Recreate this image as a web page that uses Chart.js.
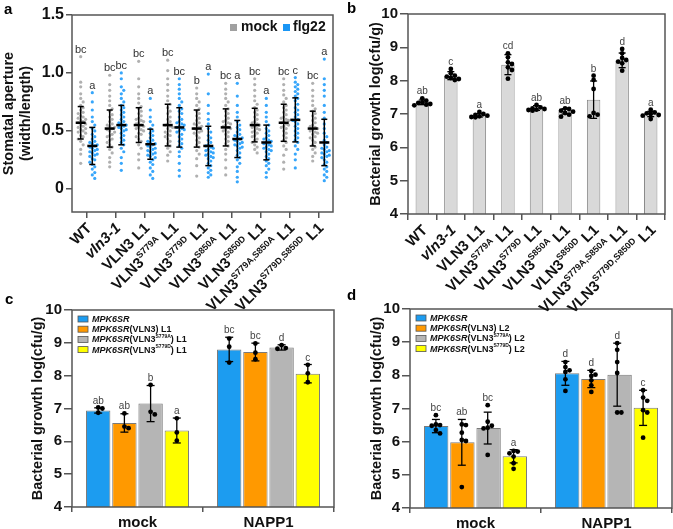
<!DOCTYPE html>
<html>
<head>
<meta charset="utf-8">
<script src="https://cdn.jsdelivr.net/npm/chart.js@4.4.1/dist/chart.umd.min.js"></script>
<style>
  body { margin: 0; background: #fff; }
  #fig { position: relative; width: 673px; height: 529px; overflow: hidden; font-family: "Liberation Sans", Arial, sans-serif; }
  #fig canvas { position: absolute; }
  .tag { position: absolute; font-weight: bold; font-size: 15px; line-height: 16px; color: #000; }
</style>
</head>
<body>
<div id="fig">
  <canvas id="cc" width="340" height="233" style="left:0;top:296px"></canvas>
  <canvas id="cc-dots" width="340" height="233" style="left:0;top:296px"></canvas>
  <canvas id="cd" width="333" height="233" style="left:340px;top:296px"></canvas>
  <canvas id="cd-dots" width="333" height="233" style="left:340px;top:296px"></canvas>
  <canvas id="ca" width="340" height="312" style="left:0;top:0"></canvas>
  <canvas id="cb" width="333" height="312" style="left:340px;top:0"></canvas>
  <canvas id="cb-dots" width="333" height="312" style="left:340px;top:0"></canvas>
  <div class="tag" style="left:4px;top:1px">a</div>
  <div class="tag" style="left:347px;top:0px">b</div>
  <div class="tag" style="left:5px;top:291px">c</div>
  <div class="tag" style="left:347px;top:287px">d</div>
</div>
<script>
// _x_ = italic, ^x^ = superscript
const GENOTYPES = ['WT', '_vln3-1_', 'VLN3 L1', 'VLN3^S779A^ L1', 'VLN3^S779D^ L1', 'VLN3^S850A^ L1',
  'VLN3^S850D^ L1', 'VLN3^S779A,S850A^ L1', 'VLN3^S779D,S850D^ L1']

// panel a: stomatal aperture, individual stomata
const A_YTICKS = [0, 0.5, 1.0, 1.5]
const MOCK_A = [
  [1.14, 0.92, 0.88, 0.82, 0.78, 0.75, 0.72, 0.70, 0.68, 0.66, 0.65, 0.63, 0.62, 0.61, 0.60, 0.59, 0.58, 0.57, 0.56, 0.55, 0.54, 0.53, 0.52, 0.51, 0.50, 0.49, 0.48, 0.46, 0.45, 0.43, 0.41, 0.38, 0.34, 0.30, 0.22],
  [0.98, 0.90, 0.85, 0.80, 0.76, 0.72, 0.69, 0.67, 0.64, 0.62, 0.60, 0.58, 0.56, 0.55, 0.54, 0.53, 0.52, 0.51, 0.50, 0.49, 0.47, 0.46, 0.45, 0.43, 0.42, 0.40, 0.38, 0.36, 0.34, 0.31, 0.27, 0.23, 0.19],
  [1.10, 0.95, 0.88, 0.82, 0.78, 0.74, 0.71, 0.69, 0.67, 0.65, 0.63, 0.61, 0.60, 0.59, 0.58, 0.57, 0.56, 0.55, 0.54, 0.53, 0.52, 0.51, 0.50, 0.48, 0.47, 0.45, 0.43, 0.41, 0.38, 0.35, 0.30, 0.25, 0.18],
  [1.11, 1.02, 0.95, 0.90, 0.85, 0.80, 0.76, 0.73, 0.70, 0.67, 0.65, 0.62, 0.60, 0.58, 0.56, 0.55, 0.54, 0.53, 0.52, 0.50, 0.49, 0.47, 0.46, 0.45, 0.43, 0.41, 0.39, 0.37, 0.35, 0.32, 0.29, 0.24],
  [0.87, 0.82, 0.78, 0.75, 0.72, 0.69, 0.67, 0.65, 0.63, 0.61, 0.59, 0.57, 0.56, 0.55, 0.54, 0.53, 0.52, 0.51, 0.50, 0.49, 0.48, 0.46, 0.44, 0.42, 0.40, 0.38, 0.36, 0.33, 0.30, 0.26, 0.20, 0.11],
  [0.91, 0.86, 0.82, 0.78, 0.75, 0.72, 0.69, 0.67, 0.65, 0.63, 0.61, 0.59, 0.58, 0.57, 0.56, 0.55, 0.54, 0.53, 0.52, 0.51, 0.50, 0.49, 0.47, 0.45, 0.43, 0.41, 0.39, 0.37, 0.34, 0.30, 0.25, 0.18, 0.12],
  [0.95, 0.90, 0.85, 0.80, 0.76, 0.73, 0.70, 0.68, 0.66, 0.64, 0.62, 0.60, 0.58, 0.57, 0.56, 0.55, 0.54, 0.53, 0.52, 0.51, 0.50, 0.49, 0.48, 0.46, 0.45, 0.43, 0.42, 0.40, 0.38, 0.36, 0.34, 0.31],
  [0.95, 0.90, 0.85, 0.81, 0.78, 0.75, 0.72, 0.70, 0.68, 0.66, 0.64, 0.62, 0.61, 0.60, 0.59, 0.58, 0.57, 0.56, 0.55, 0.54, 0.53, 0.52, 0.50, 0.48, 0.46, 0.44, 0.42, 0.40, 0.37, 0.34, 0.29, 0.23, 0.17],
  [0.91, 0.85, 0.80, 0.76, 0.72, 0.69, 0.67, 0.65, 0.63, 0.61, 0.59, 0.57, 0.55, 0.54, 0.53, 0.52, 0.51, 0.50, 0.49, 0.48, 0.47, 0.45, 0.44, 0.42, 0.40, 0.38, 0.36, 0.34, 0.31, 0.28, 0.24],
]
const FLG_A = [
  [0.83, 0.75, 0.68, 0.62, 0.58, 0.55, 0.52, 0.50, 0.47, 0.45, 0.43, 0.41, 0.40, 0.39, 0.38, 0.37, 0.36, 0.35, 0.34, 0.33, 0.32, 0.31, 0.30, 0.29, 0.28, 0.26, 0.25, 0.23, 0.21, 0.19, 0.17, 0.14, 0.12, 0.09],
  [1.00, 0.95, 0.88, 0.85, 0.82, 0.78, 0.75, 0.72, 0.70, 0.68, 0.66, 0.64, 0.62, 0.60, 0.58, 0.57, 0.56, 0.55, 0.54, 0.53, 0.52, 0.51, 0.50, 0.48, 0.46, 0.44, 0.42, 0.40, 0.38, 0.35, 0.32, 0.27, 0.22, 0.16],
  [0.78, 0.68, 0.62, 0.58, 0.55, 0.52, 0.50, 0.48, 0.46, 0.44, 0.42, 0.41, 0.40, 0.39, 0.38, 0.37, 0.36, 0.35, 0.34, 0.33, 0.32, 0.31, 0.30, 0.29, 0.28, 0.27, 0.25, 0.23, 0.21, 0.18, 0.15, 0.12, 0.09],
  [0.95, 0.90, 0.86, 0.82, 0.78, 0.75, 0.72, 0.69, 0.67, 0.65, 0.62, 0.60, 0.58, 0.57, 0.56, 0.55, 0.54, 0.53, 0.52, 0.51, 0.50, 0.49, 0.47, 0.45, 0.43, 0.41, 0.39, 0.37, 0.35, 0.32, 0.28, 0.22, 0.16, 0.11],
  [0.99, 0.82, 0.72, 0.65, 0.60, 0.56, 0.52, 0.49, 0.46, 0.44, 0.42, 0.40, 0.38, 0.37, 0.36, 0.35, 0.34, 0.33, 0.32, 0.31, 0.30, 0.29, 0.28, 0.27, 0.26, 0.24, 0.22, 0.20, 0.18, 0.16, 0.14, 0.12, 0.10],
  [0.91, 0.80, 0.72, 0.66, 0.62, 0.58, 0.55, 0.53, 0.51, 0.49, 0.47, 0.46, 0.45, 0.44, 0.43, 0.42, 0.41, 0.40, 0.39, 0.38, 0.37, 0.36, 0.35, 0.33, 0.31, 0.29, 0.27, 0.25, 0.22, 0.19, 0.15, 0.10, 0.06],
  [0.78, 0.72, 0.66, 0.62, 0.58, 0.55, 0.52, 0.50, 0.48, 0.46, 0.44, 0.43, 0.42, 0.41, 0.40, 0.39, 0.38, 0.37, 0.36, 0.35, 0.34, 0.33, 0.32, 0.30, 0.28, 0.26, 0.24, 0.22, 0.20, 0.17, 0.14, 0.10],
  [0.96, 0.92, 0.90, 0.88, 0.86, 0.84, 0.82, 0.80, 0.78, 0.76, 0.73, 0.70, 0.68, 0.66, 0.64, 0.62, 0.60, 0.59, 0.58, 0.56, 0.54, 0.52, 0.50, 0.48, 0.46, 0.44, 0.42, 0.40, 0.37, 0.34, 0.30, 0.25, 0.18],
  [1.12, 0.95, 0.90, 0.85, 0.80, 0.72, 0.66, 0.61, 0.56, 0.52, 0.48, 0.45, 0.42, 0.40, 0.38, 0.36, 0.35, 0.34, 0.33, 0.32, 0.31, 0.30, 0.29, 0.28, 0.27, 0.25, 0.23, 0.21, 0.19, 0.17, 0.15, 0.12, 0.10, 0.07],
]
const MOCK_MEAN = [0.57, 0.52, 0.55, 0.55, 0.52, 0.53, 0.55, 0.57, 0.52]
const MOCK_SD = [0.14, 0.16, 0.15, 0.18, 0.16, 0.16, 0.145, 0.16, 0.15]
const FLG_MEAN = [0.37, 0.55, 0.385, 0.53, 0.37, 0.43, 0.40, 0.595, 0.40]
const FLG_SD = [0.16, 0.17, 0.13, 0.17, 0.17, 0.16, 0.15, 0.19, 0.20]
const MOCK_LETTERS = ['bc', 'bc', 'bc', 'bc', 'b', 'bc', 'bc', 'bc', 'bc']
const FLG_LETTERS = ['a', 'bc', 'a', 'bc', 'a', 'a', 'a', 'c', 'a']

// panel b: bacterial growth per genotype
const B_MEANS = [7.35, 8.15, 6.96, 8.48, 7.18, 7.08, 7.43, 8.61, 7.00]
const B_SD = [0.07, 0.12, 0.05, 0.30, 0.07, 0.08, 0.56, 0.22, 0.08]
const B_DOTS = [
  [7.47, 7.40, 7.35, 7.33, 7.30, 7.28, 7.26],
  [8.35, 8.22, 8.15, 8.12, 8.08, 8.05, 8.02],
  [7.06, 7.00, 6.97, 6.95, 6.93, 6.91, 6.90],
  [8.82, 8.70, 8.55, 8.50, 8.40, 8.32, 8.06],
  [7.27, 7.20, 7.17, 7.15, 7.13, 7.12, 7.10],
  [7.17, 7.15, 7.10, 7.07, 7.03, 6.98, 6.92],
  [8.15, 8.02, 7.75, 7.03, 6.98, 6.93],
  [8.95, 8.82, 8.68, 8.62, 8.57, 8.52, 8.30],
  [7.13, 7.05, 7.02, 7.00, 6.97, 6.95, 6.85],
]
const B_LETTERS = ['ab', 'c', 'a', 'cd', 'ab', 'ab', 'b', 'd', 'a']

// panels c and d
const TREATMENTS = ['mock', 'NAPP1']
const C_SERIES = ['_MPK6SR_', '_MPK6SR_(VLN3) L1', '_MPK6SR_(VLN3^S779A^) L1', '_MPK6SR_(VLN3^S779D^) L1']
const D_SERIES = ['_MPK6SR_', '_MPK6SR_(VLN3) L2', '_MPK6SR_(VLN3^S779A^) L2', '_MPK6SR_(VLN3^S779D^) L2']
const SERIES_COLORS = ['#1c9cf0', '#ff9900', '#b5b5b5', '#ffff00']

const C_MEANS = [[6.94, 8.80], [6.56, 8.72], [7.15, 8.86], [6.33, 8.06]]
const C_SD = [[0.08, 0.37], [0.28, 0.27], [0.55, 0.08], [0.38, 0.28]]
const C_DOTS = [
  [[7.03, 7.00, 6.87], [9.13, 8.88, 8.40]],
  [[6.85, 6.45, 6.40], [8.98, 8.70, 8.50]],
  [[7.72, 6.90, 6.82], [8.93, 8.84, 8.82]],
  [[6.70, 6.27, 6.02], [8.33, 8.07, 7.80]],
]
const C_LETTERS = [['ab', 'bc'], ['ab', 'bc'], ['b', 'd'], ['a', 'c']]

const D_MEANS = [[6.47, 8.06], [5.98, 7.89], [6.41, 8.02], [5.56, 7.02]]
const D_SD = [[0.20, 0.36], [0.69, 0.26], [0.48, 0.95], [0.20, 0.53]]
const D_DOTS = [
  [[6.80, 6.52, 6.50, 6.48, 6.35, 6.25], [8.40, 8.25, 8.15, 8.10, 7.88, 7.53]],
  [[6.52, 6.50, 6.27, 6.05, 6.02, 4.63], [8.13, 8.02, 7.98, 7.85, 7.70, 7.50]],
  [[7.10, 6.60, 6.48, 6.42, 6.40, 5.60], [8.97, 8.77, 8.40, 8.07, 6.88, 6.88]],
  [[5.72, 5.70, 5.65, 5.55, 5.35, 5.18], [7.55, 7.33, 7.23, 6.95, 6.88, 6.12]],
]
const D_LETTERS = [['bc', 'd'], ['ab', 'd'], ['bc', 'd'], ['a', 'c']]

const FAMILY = '"Liberation Sans", Arial, sans-serif'
Chart.defaults.font.family = FAMILY
Chart.defaults.color = '#111'
Chart.defaults.animation = false
const AXIS = '#555'

// split "_it_" / "^sup^" markup into runs
function runs(str) {
  const out = []
  let it = false, sup = false, buf = ''
  const flush = () => { if (buf) out.push({ t: buf, it, sup }); buf = '' }
  for (const ch of str) {
    if (ch === '_') { flush(); it = !it }
    else if (ch === '^') { flush(); sup = !sup }
    else buf += ch
  }
  flush()
  return out
}

function drawRuns(ctx, str, x, y, size, alignRight) {
  const parts = runs(str)
  const fontOf = p => `${p.it ? 'italic ' : ''}bold ${p.sup ? Math.round(size * 0.6) : size}px ${FAMILY}`
  const widths = parts.map(p => { ctx.font = fontOf(p); return ctx.measureText(p.t).width })
  let cx = alignRight ? x - widths.reduce((a, b) => a + b, 0) : x
  ctx.textAlign = 'left'
  parts.forEach((p, i) => {
    ctx.font = fontOf(p)
    ctx.fillText(p.t, cx, p.sup ? y - size * 0.35 : y)
    cx += widths[i]
  })
}

// deterministic beeswarm offsets: neighbours in value go side by side
function swarm(vals, dv, dx, maxK) {
  const placed = []
  return vals.map(v => {
    const near = placed.filter(p => Math.abs(p.v - v) < dv)
    let off = null
    for (let k = 0; k <= 2 * maxK && off === null; k++) {
      const c = (k % 2 ? 1 : -1) * Math.ceil(k / 2) * dx
      if (!near.some(p => Math.abs(p.o - c) < dx * 0.5)) off = c
    }
    if (off === null) off = ((near.length % (2 * maxK + 1)) - maxK) * dx * 0.5
    placed.push({ v, o: off })
    return off
  })
}

function swarmPoints(groups, centerOf, dv, dx, maxK) {
  const pts = []
  groups.forEach((vals, i) => {
    const offs = swarm(vals, dv, dx, maxK)
    vals.forEach((v, j) => pts.push({ x: centerOf(i) + offs[j], y: v }))
  })
  return pts
}

function fixBox(size, horizontal) {
  return s => {
    if (horizontal) s.height = size
    else s.width = size
    s.paddingTop = s.paddingBottom = s.paddingLeft = s.paddingRight = 0
  }
}

function line(ctx, x1, y1, x2, y2) {
  ctx.beginPath(); ctx.moveTo(x1, y1); ctx.lineTo(x2, y2); ctx.stroke()
}

const frame = {
  id: 'frame',
  afterDraw(chart) {
    const { ctx, chartArea: a } = chart
    ctx.save()
    ctx.strokeStyle = AXIS
    ctx.lineWidth = 1.5
    ctx.strokeRect(a.left, a.top, a.right - a.left, a.bottom - a.top)
    ctx.restore()
  }
}

function rotatedLabels(labels, dx, dy) {
  return {
    id: 'rotLabels',
    afterDraw(chart) {
      const { ctx, scales: { x }, chartArea } = chart
      ctx.save()
      ctx.fillStyle = '#111'
      ctx.textBaseline = 'middle'
      labels.forEach((lab, i) => {
        ctx.save()
        ctx.translate(x.getPixelForValue(i) + dx, chartArea.bottom + dy)
        ctx.rotate(-Math.PI / 4)
        drawRuns(ctx, lab, 0, 0, 15, true)
        ctx.restore()
      })
      ctx.restore()
    }
  }
}

function yAxis(min, max, step, size, width, title, titlePad, tickLen) {
  return {
    min, max,
    ticks: { stepSize: step, font: { size, weight: 'bold' }, color: '#111', padding: 2 },
    grid: { drawOnChartArea: false, tickLength: tickLen, color: AXIS, lineWidth: 1.5 },
    border: { display: false },
    title: { display: true, text: title, font: { size: 14.5, weight: 'bold' }, color: '#111', padding: { top: titlePad, bottom: 0 } },
    afterFit: fixBox(width)
  }
}

// ---------- panel a ----------
const A_OFF = [-0.2, 0.2]
new Chart(document.getElementById('ca'), {
  type: 'scatter',
  data: {
    datasets: [
      { data: swarmPoints(MOCK_A, i => i + A_OFF[0], 0.036, 0.085, 2), backgroundColor: 'rgba(150,150,150,0.75)', pointRadius: 1.6, borderWidth: 0 },
      { data: swarmPoints(FLG_A, i => i + A_OFF[1], 0.036, 0.085, 2), backgroundColor: 'rgba(20,150,250,0.85)', pointRadius: 1.6, borderWidth: 0 },
    ]
  },
  options: {
    responsive: false,
    layout: { padding: { top: 15, right: 7, left: 0, bottom: 0 } },
    plugins: { legend: { display: false }, tooltip: { enabled: false } },
    scales: {
      x: {
        type: 'linear', min: -0.5, max: 8.5, offset: false,
        afterBuildTicks: s => { s.ticks = GENOTYPES.map((_, i) => ({ value: i })) },
        ticks: { display: false },
        grid: { drawOnChartArea: false, tickLength: 6, color: AXIS, lineWidth: 1.5 },
        border: { display: false },
        afterFit: fixBox(312 - 212, true)
      },
      y: Object.assign(yAxis(-0.2, 1.5, 0.5, 16, 72, ['Stomatal aperture', '(width/length)'], 0, 6), {
        afterBuildTicks: s => { s.ticks = A_YTICKS.map(v => ({ value: v })) },
      })
    }
  },
  plugins: [frame, rotatedLabels(GENOTYPES, 3, 14), {
    id: 'statsA',
    afterDatasetsDraw(chart) {
      const { ctx, scales: { x, y }, chartArea } = chart
      ctx.save()
      ctx.strokeStyle = '#000'
      const sets = [[MOCK_A, MOCK_MEAN, MOCK_SD, MOCK_LETTERS, A_OFF[0]], [FLG_A, FLG_MEAN, FLG_SD, FLG_LETTERS, A_OFF[1]]]
      sets.forEach(([vals, mean, sd, letters, off]) => mean.forEach((m, i) => {
        const px = x.getPixelForValue(i + off)
        const yt = y.getPixelForValue(m + sd[i]), yb = y.getPixelForValue(m - sd[i]), ym = y.getPixelForValue(m)
        ctx.lineWidth = 1.5
        line(ctx, px, yt, px, yb)
        line(ctx, px - 3, yt, px + 3, yt)
        line(ctx, px - 3, yb, px + 3, yb)
        ctx.lineWidth = 2.5
        line(ctx, px - 5, ym, px + 5, ym)
        ctx.fillStyle = '#333'
        ctx.font = `11px ${FAMILY}`
        ctx.textAlign = 'center'
        ctx.textBaseline = 'alphabetic'
        ctx.fillText(letters[i], px, y.getPixelForValue(Math.max(...vals[i])) - 4)
      }))
      // legend
      const r = chartArea.right, t = chartArea.top
      ctx.textBaseline = 'middle'
      ctx.fillStyle = '#a0a0a0'; ctx.fillRect(r - 103, t + 9, 7, 7)
      ctx.fillStyle = '#1a96f5'; ctx.fillRect(r - 50, t + 9, 7, 7)
      ctx.fillStyle = '#111'
      ctx.font = `bold 14px ${FAMILY}`
      ctx.textAlign = 'left'
      ctx.fillText('mock', r - 92, t + 12.5)
      ctx.fillText('flg22', r - 40, t + 12.5)
      ctx.restore()
    }
  }]
})

// ---------- bar panels: bars on one canvas, dots + SD on an aligned overlay ----------
function barStats(means, sds, dots, letters, centerOf, capHalf) {
  return {
    id: 'barStats',
    afterDatasetsDraw(chart) {
      const { ctx, scales: { x, y } } = chart
      ctx.save()
      ctx.strokeStyle = '#000'
      ctx.lineWidth = 1.3
      means.forEach((ms, s) => ms.forEach((m, i) => {
        const px = x.getPixelForValue(centerOf(s, i))
        const yt = y.getPixelForValue(m + sds[s][i]), yb = y.getPixelForValue(m - sds[s][i])
        line(ctx, px, yt, px, yb)
        line(ctx, px - capHalf, yt, px + capHalf, yt)
        line(ctx, px - capHalf, yb, px + capHalf, yb)
        const top = Math.max(m + sds[s][i], ...dots[s][i])
        ctx.fillStyle = '#444'
        ctx.font = `10px ${FAMILY}`
        ctx.textAlign = 'center'
        ctx.textBaseline = 'alphabetic'
        ctx.fillText(letters[s][i], px, y.getPixelForValue(top) - 4)
      }))
      ctx.restore()
    }
  }
}

function legendBoxes(series, colors) {
  return {
    id: 'legendBoxes',
    afterDraw(chart) {
      const { ctx, chartArea: a } = chart
      ctx.save()
      ctx.textBaseline = 'middle'
      series.forEach((lab, k) => {
        const yc = a.top + 9 + k * 10.2
        ctx.fillStyle = colors[k]
        ctx.fillRect(a.left + 6, yc - 3, 10, 6)
        ctx.strokeStyle = '#555'
        ctx.lineWidth = 0.8
        ctx.strokeRect(a.left + 6, yc - 3, 10, 6)
        ctx.fillStyle = '#111'
        drawRuns(ctx, lab, a.left + 20, yc + 0.5, 9, false)
      })
      ctx.restore()
    }
  }
}

// g = geometry: canvas height, axis sizes, paddings
function barPanel(id, labels, means, colors, g, xTicks, extraPlugins) {
  return new Chart(document.getElementById(id), {
    type: 'bar',
    data: {
      labels,
      datasets: means.map((m, s) => ({
        data: m, backgroundColor: colors[s], borderColor: g.edge, borderWidth: 1,
        barPercentage: g.barPct, categoryPercentage: g.catPct
      }))
    },
    options: {
      responsive: false,
      layout: { padding: { top: g.top, right: g.right, left: 0, bottom: 0 } },
      plugins: { legend: { display: false }, tooltip: { enabled: false } },
      scales: {
        x: {
          ticks: xTicks,
          grid: { drawOnChartArea: false, tickLength: g.xTick, color: AXIS, lineWidth: 1.5 },
          border: { display: false },
          afterFit: fixBox(g.xh, true)
        },
        y: yAxis(4, 10, 1, 15, g.yw, 'Bacterial growth log(cfu/g)', g.titlePad, 8)
      }
    },
    plugins: [frame].concat(extraPlugins)
  })
}

function dotPanel(id, n, points, g, stats) {
  const hidden = { display: false }
  return new Chart(document.getElementById(id), {
    type: 'scatter',
    data: { datasets: [{ data: points, backgroundColor: '#000', borderWidth: 0, pointRadius: 2.4 }] },
    options: {
      responsive: false,
      layout: { padding: { top: g.top, right: g.right, left: 0, bottom: 0 } },
      plugins: { legend: { display: false }, tooltip: { enabled: false } },
      scales: {
        x: { type: 'linear', min: -0.5, max: n - 0.5, offset: false, ticks: hidden, grid: hidden, border: hidden, afterFit: fixBox(g.xh, true) },
        y: { min: 4, max: 10, ticks: hidden, grid: hidden, border: hidden, afterFit: fixBox(g.yw) }
      }
    },
    plugins: [stats]
  })
}

// panel b
const GB = { top: 14, right: 8, xh: 312 - 214, yw: 68, titlePad: 27, xTick: 6, barPct: 0.47, catPct: 1, edge: '#8a8a8a' }
barPanel('cb', GENOTYPES, [B_MEANS], ['#d9d9d9'], GB, { display: false }, [rotatedLabels(GENOTYPES, 3, 14)])
dotPanel('cb-dots', GENOTYPES.length, swarmPoints(B_DOTS, i => i, 0.12, 0.14, 2), GB,
  barStats([B_MEANS], [B_SD], [B_DOTS], [B_LETTERS], (s, i) => i, 3.5))

// panels c and d
const groupCenter = (s, i) => i - 0.3 + 0.2 * s
function groupedPanel(id, series, means, sds, dots, letters, g) {
  barPanel(id, TREATMENTS, means, SERIES_COLORS, g,
    { font: { size: 15, weight: 'bold' }, color: '#111', padding: 2 }, [legendBoxes(series, SERIES_COLORS)])
  const pts = []
  dots.forEach((perTreat, s) => {
    swarmPoints(perTreat, i => groupCenter(s, i), 0.12, 0.032, 2).forEach(p => pts.push(p))
  })
  dotPanel(id + '-dots', TREATMENTS.length, pts, g, barStats(means, sds, dots, letters, groupCenter, 4))
}

const GC = { top: 14, right: 6, xh: 233 - 211, yw: 72, titlePad: 29, xTick: 5, barPct: 0.93, catPct: 0.8, edge: '#7a7a7a' }
const GD = { top: 13, right: 1, xh: 233 - 212, yw: 70, titlePad: 28, xTick: 5, barPct: 0.93, catPct: 0.8, edge: '#7a7a7a' }
groupedPanel('cc', C_SERIES, C_MEANS, C_SD, C_DOTS, C_LETTERS, GC)
groupedPanel('cd', D_SERIES, D_MEANS, D_SD, D_DOTS, D_LETTERS, GD)
</script>
</body>
</html>
